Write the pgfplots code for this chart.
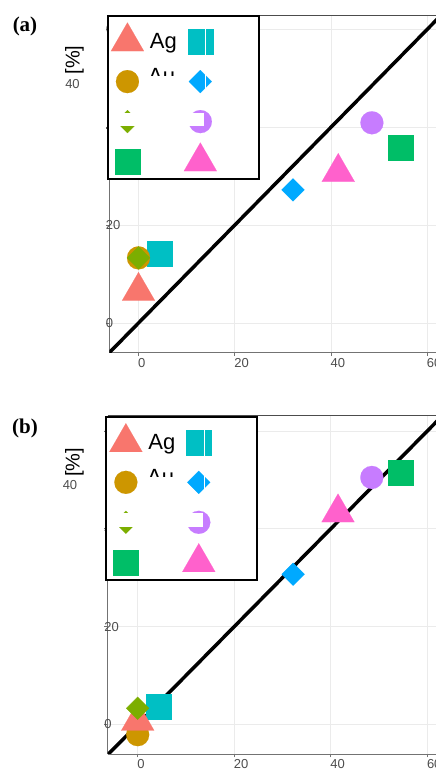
\documentclass[border=0pt]{standalone}
\usepackage{pgfplots}
\pgfplotsset{compat=1.18}
\usepackage{fontspec}
\setmainfont{Liberation Sans}
\newfontfamily\tnr{Liberation Serif}
\definecolor{cAg}{HTML}{F8766D}
\definecolor{cAu}{HTML}{CD9600}
\definecolor{cGa}{HTML}{7CAE00}
\definecolor{cGb}{HTML}{00BE67}
\definecolor{cCy}{HTML}{00BFC4}
\definecolor{cBl}{HTML}{00A9FF}
\definecolor{cPu}{HTML}{C77CFF}
\definecolor{cPk}{HTML}{FF61CC}
\definecolor{tickgray}{HTML}{4D4D4D}
\definecolor{gridgray}{HTML}{EBEBEB}
\tikzset{
  sTri/.style={mark=triangle*, mark size=19pt, mark options={draw=#1, fill=#1, line width=0.1pt}},
  sCirc/.style={mark=*, mark size=11.5pt, mark options={draw=#1, fill=#1, line width=0.1pt}},
  sSq/.style={mark=square*, mark size=12.5pt, mark options={draw=#1, fill=#1, line width=0.1pt}},
  sDia/.style={mark=square*, mark size=8.1pt, mark options={draw=#1, fill=#1, line width=0.1pt, rotate=45}},
}
\pgfplotsset{
  panel/.style={
    x=4.813pt, y=4.895pt, anchor=origin,
    xmin=-6.07, xmax=61.8, ymin=-6.07, ymax=62.9,
    axis x line=bottom, axis y line=left,
    axis line style={-, draw=black!55, line width=0.8pt},
    xtick={0,20,40,60}, ytick={0,20,40,60},
    grid=major, major grid style={draw=gridgray, line width=0.8pt},
    tick align=outside, major tick length=3.5pt,
    tick style={draw=black!55, line width=0.8pt},
    ticklabel style={font=\fontsize{13}{13}\selectfont, text=tickgray, inner sep=0pt},
    /pgf/number format/assume math mode=true,
    xticklabel style={anchor=north west, xshift=-0.5pt, yshift=-2pt},
    yticklabel style={anchor=west},
    legend columns=2, legend cell align=left,
    legend style={at={(0,1)}, anchor=north west, xshift=-2.3pt, draw=black, line width=2pt, fill=white,
      inner xsep=3pt, inner ysep=1.5pt, row sep=0pt, column sep=0pt,
      font=\fontsize{22}{22}\selectfont, nodes={inner sep=0pt, text=black}},
    legend image code/.code={\draw[##1] plot coordinates {(0pt,0pt)}; \path[draw=none, fill=none] (-15pt,-16pt) rectangle (15pt,24pt);},
  },
}
\newcommand{\legendset}{%
  \addlegendimage{sTri=cAg}\addlegendentry{\makebox[40pt][l]{\hspace{6pt}Ag}}
  \addlegendimage{sSq=cCy}\addlegendentry{\makebox[39pt]{}}
  \addlegendimage{sCirc=cAu}\addlegendentry{\makebox[40pt]{}}
  \addlegendimage{sDia=cBl}\addlegendentry{\makebox[39pt]{}}
  \addlegendimage{sDia=cGa}\addlegendentry{\makebox[40pt]{}}
  \addlegendimage{sCirc=cPu}\addlegendentry{\makebox[39pt]{}}
  \addlegendimage{sSq=cGb}\addlegendentry{\makebox[40pt]{}}
  \addlegendimage{sTri=cPk}\addlegendentry{\makebox[39pt]{}}
}
\begin{document}
\begin{tikzpicture}
\path[use as bounding box] (0pt,0pt) rectangle (436pt,769pt);
% ---------------- panel (a)
\begin{axis}[panel, at={(138.5pt,446pt)}]
\addplot[black, line width=3.5pt, forget plot] coordinates {(-10,-10) (70,70)};
\addplot[only marks, sSq=cCy, forget plot] coordinates {(4.3,14.1)};
\addplot[only marks, sCirc=cAu, forget plot] coordinates {(0,13.3)};
\addplot[only marks, sTri=cAg, forget plot] coordinates {(0,6.5)};
\addplot[only marks, sDia=cGa, forget plot] coordinates {(0,13.3)};
\addplot[only marks, sSq=cGb, forget plot] coordinates {(54.4,35.9)};
\addplot[only marks, sDia=cBl, forget plot] coordinates {(32.1,27.2)};
\addplot[only marks, sCirc=cPu, forget plot] coordinates {(48.5,40.9)};
\addplot[only marks, sTri=cPk, forget plot] coordinates {(41.5,30.8)};
\draw[black!70, line width=1pt] (rel axis cs:0,1) -- (rel axis cs:1,1);
\legendset
\end{axis}
% ---------------- panel (b)
\begin{axis}[panel, at={(137.7pt,44.6pt)}, x=4.827pt, y=4.89pt, xmin=-6.21, xmax=61.8, ymin=-6.05, ymax=63.1]
\addplot[black, line width=3.5pt, forget plot] coordinates {(-10,-10) (70,70)};
\addplot[only marks, sSq=cCy, forget plot] coordinates {(4.3,3.6)};
\addplot[only marks, sCirc=cAu, forget plot] coordinates {(0,-2.1)};
\addplot[only marks, sTri=cAg, forget plot] coordinates {(0,0.7)};
\addplot[only marks, sDia=cGa, forget plot] coordinates {(0,3.3)};
\addplot[only marks, sSq=cGb, forget plot] coordinates {(54.4,51.6)};
\addplot[only marks, sDia=cBl, forget plot] coordinates {(32.2,30.7)};
\addplot[only marks, sCirc=cPu, forget plot] coordinates {(48.5,50.5)};
\addplot[only marks, sTri=cPk, forget plot] coordinates {(41.5,43.3)};
\draw[black!70, line width=1pt] (rel axis cs:0,1) -- (rel axis cs:1,1);
\legendset
\end{axis}
% ---------------- texts outside the panels
\node[font=\tnr\bfseries\fontsize{21}{21}\selectfont, inner sep=0pt] at (25pt,742.5pt) {(a)};
\node[font=\tnr\bfseries\fontsize{21}{21}\selectfont, inner sep=0pt] at (25pt,341pt) {(b)};
\node[rotate=90, font=\fontsize{20}{20}\selectfont, inner sep=0pt] at (74.5pt,709pt) {[\%]};
\node[rotate=90, font=\fontsize{20}{20}\selectfont, inner sep=0pt] at (74.5pt,306.5pt) {[\%]};
\node[font=\fontsize{13}{13}\selectfont, text=tickgray, inner sep=0pt] at (72.5pt,685pt) {40};
\node[font=\fontsize{13}{13}\selectfont, text=tickgray, inner sep=0pt] at (70pt,284pt) {40};
% ---------------- legend rendering artefacts of the original
\begin{scope}
\clip (140pt,693pt) rectangle (186pt,705pt);
\node[anchor=base west, inner sep=0pt, font=\fontsize{22}{22}\selectfont] at (148pt,685pt) {Au};
\end{scope}
\begin{scope}
\clip (139pt,292pt) rectangle (185pt,304pt);
\node[anchor=base west, inner sep=0pt, font=\fontsize{22}{22}\selectfont] at (147pt,284pt) {Au};
\end{scope}
\fill[white] (112pt,643pt) rectangle (204pt,656pt);
\fill[white] (205pt,674pt) rectangle (206pt,744pt);
\fill[white] (111pt,242pt) rectangle (203pt,255.5pt);
\fill[white] (204pt,273pt) rectangle (205pt,343pt);
\end{tikzpicture}
\end{document}
